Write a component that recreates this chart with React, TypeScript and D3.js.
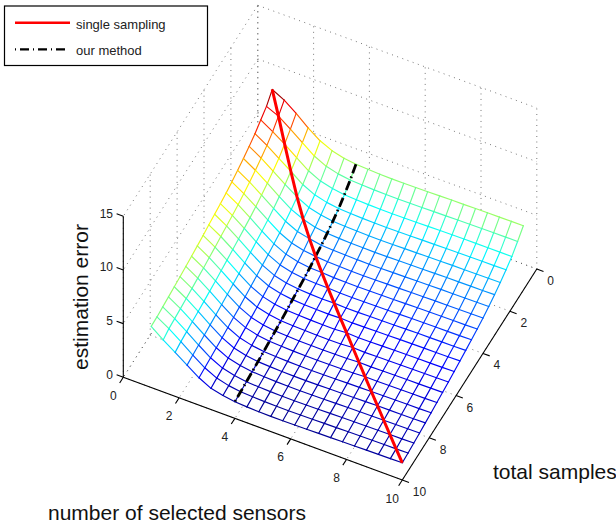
import React from "react";
import { scaleLinear, line, range, extent, interpolateRgb } from "d3";

const sensorTicks = [0, 2, 4, 6, 8, 10];
const sampleTicks = [0, 2, 4, 6, 8, 10];
const errorTicks = [0, 5, 10, 15];

// grid of the surface: 22 nodes from 1 to 10 along both axes
const nodeCount = 22;
const ourMethodColumn = 7;

// estimation error, one row per total samples node, one value per sensors node
const errorRows = [
  [10.08, 9.5, 8.67, 7.74, 6.94, 6.43, 6.13, 5.98, 5.92, 5.88, 5.85, 5.85, 5.87, 5.89, 5.91, 5.93, 5.94, 5.96, 5.97, 5.98, 5.99, 6.0],
  [9.35, 8.85, 8.05, 7.2, 6.36, 5.81, 5.52, 5.36, 5.3, 5.26, 5.24, 5.23, 5.24, 5.26, 5.28, 5.3, 5.32, 5.34, 5.35, 5.36, 5.37, 5.37],
  [8.93, 8.25, 7.5, 6.65, 5.83, 5.28, 4.99, 4.83, 4.77, 4.73, 4.71, 4.7, 4.71, 4.73, 4.75, 4.77, 4.79, 4.8, 4.81, 4.81, 4.81, 4.81],
  [8.49, 7.81, 7.01, 6.22, 5.39, 4.84, 4.55, 4.39, 4.33, 4.29, 4.27, 4.26, 4.27, 4.29, 4.31, 4.33, 4.35, 4.37, 4.38, 4.39, 4.4, 4.42],
  [8.15, 7.47, 6.67, 5.83, 5.08, 4.5, 4.21, 4.05, 3.99, 3.95, 3.93, 3.92, 3.93, 3.95, 3.97, 3.99, 4.01, 4.03, 4.04, 4.05, 4.06, 4.08],
  [7.86, 7.18, 6.38, 5.54, 4.76, 4.25, 3.92, 3.76, 3.7, 3.66, 3.64, 3.63, 3.64, 3.66, 3.68, 3.7, 3.72, 3.74, 3.75, 3.76, 3.77, 3.79],
  [7.6, 6.92, 6.12, 5.28, 4.5, 3.95, 3.7, 3.5, 3.44, 3.4, 3.38, 3.37, 3.38, 3.4, 3.42, 3.44, 3.46, 3.48, 3.49, 3.5, 3.51, 3.53],
  [7.37, 6.69, 5.89, 5.05, 4.27, 3.72, 3.43, 3.3, 3.21, 3.17, 3.15, 3.14, 3.15, 3.17, 3.19, 3.21, 3.23, 3.25, 3.26, 3.27, 3.28, 3.3],
  [7.18, 6.5, 5.7, 4.86, 4.08, 3.53, 3.24, 3.08, 3.05, 2.98, 2.96, 2.95, 2.96, 2.98, 3.0, 3.02, 3.04, 3.06, 3.07, 3.08, 3.09, 3.11],
  [7.02, 6.34, 5.54, 4.7, 3.92, 3.37, 3.08, 2.92, 2.86, 2.85, 2.8, 2.79, 2.8, 2.82, 2.84, 2.86, 2.88, 2.9, 2.91, 2.92, 2.93, 2.95],
  [6.88, 6.2, 5.4, 4.56, 3.78, 3.23, 2.94, 2.78, 2.72, 2.68, 2.7, 2.65, 2.66, 2.68, 2.7, 2.72, 2.74, 2.76, 2.77, 2.78, 2.79, 2.81],
  [6.74, 6.06, 5.26, 4.42, 3.64, 3.09, 2.8, 2.64, 2.58, 2.54, 2.52, 2.56, 2.52, 2.54, 2.56, 2.58, 2.6, 2.62, 2.63, 2.64, 2.65, 2.67],
  [6.59, 5.91, 5.11, 4.27, 3.49, 2.94, 2.65, 2.49, 2.43, 2.39, 2.37, 2.36, 2.45, 2.39, 2.41, 2.43, 2.45, 2.47, 2.48, 2.49, 2.5, 2.52],
  [6.46, 5.78, 4.98, 4.14, 3.36, 2.81, 2.52, 2.36, 2.3, 2.26, 2.24, 2.23, 2.24, 2.32, 2.28, 2.3, 2.32, 2.34, 2.35, 2.36, 2.37, 2.39],
  [6.34, 5.66, 4.86, 4.02, 3.24, 2.69, 2.4, 2.24, 2.18, 2.14, 2.12, 2.11, 2.12, 2.14, 2.2, 2.18, 2.2, 2.22, 2.23, 2.24, 2.25, 2.27],
  [6.23, 5.55, 4.75, 3.91, 3.13, 2.58, 2.29, 2.13, 2.07, 2.03, 2.01, 2.0, 2.01, 2.03, 2.05, 2.1, 2.09, 2.11, 2.12, 2.13, 2.14, 2.16],
  [6.12, 5.44, 4.64, 3.8, 3.02, 2.47, 2.18, 2.02, 1.96, 1.92, 1.9, 1.89, 1.9, 1.92, 1.94, 1.96, 1.98, 2.0, 2.01, 2.02, 2.03, 2.05],
  [6.02, 5.34, 4.54, 3.7, 2.92, 2.37, 2.08, 1.92, 1.86, 1.82, 1.8, 1.79, 1.8, 1.82, 1.84, 1.86, 1.88, 1.9, 1.91, 1.92, 1.93, 1.95],
  [5.92, 5.24, 4.44, 3.6, 2.82, 2.27, 1.98, 1.82, 1.76, 1.72, 1.7, 1.69, 1.7, 1.72, 1.74, 1.76, 1.78, 1.8, 1.81, 1.82, 1.83, 1.85],
  [5.83, 5.15, 4.35, 3.51, 2.73, 2.18, 1.89, 1.73, 1.67, 1.63, 1.61, 1.6, 1.61, 1.63, 1.65, 1.67, 1.69, 1.71, 1.72, 1.73, 1.74, 1.76],
  [5.74, 5.06, 4.26, 3.42, 2.64, 2.09, 1.8, 1.64, 1.58, 1.54, 1.52, 1.51, 1.52, 1.54, 1.56, 1.58, 1.6, 1.62, 1.63, 1.64, 1.65, 1.67],
  [5.7, 4.85, 4.1, 3.32, 2.55, 1.98, 1.72, 1.55, 1.48, 1.44, 1.42, 1.42, 1.43, 1.45, 1.47, 1.49, 1.51, 1.53, 1.55, 1.57, 1.58, 1.6],
];

const jetStops = ["#000090", "#0000ff", "#00ffff", "#ffff00", "#ff0000", "#800000"];
const jetDomain = [0, 0.125, 0.375, 0.625, 0.875, 1];

const labelFont = "'Liberation Sans', Arial, sans-serif";

const ox = 123.3;
const oy = 377.3;

// oblique projection of the box, one scale per axis and screen direction
const sensorX = scaleLinear().domain([0, 10]).range([0, 279]);
const sensorY = scaleLinear().domain([0, 10]).range([0, 102.7]);
const sampleX = scaleLinear().domain([10, 0]).range([0, 134.5]);
const sampleY = scaleLinear().domain([10, 0]).range([0, -211]);
const errorY = scaleLinear().domain([0, 15]).range([0, -161]);

const px = (s: number, t: number) => ox + sensorX(s) + sampleX(t);
const py = (s: number, t: number, z: number) => oy + sensorY(s) + sampleY(t) + errorY(z);

const nodeValue = scaleLinear().domain([0, nodeCount - 1]).range([1, 10]);
const nodes = range(nodeCount);

export default function App() {
  const [zMin, zMax] = extent(errorRows.flat()) as [number, number];
  const unit = scaleLinear().domain([zMin, zMax]).range([0, 1]);
  const jet = scaleLinear<string>().domain(jetDomain).range(jetStops).interpolate(interpolateRgb).clamp(true);
  const colorOf = (z: number) => jet(unit(z));

  const at = (i: number, j: number) => ({
    x: px(nodeValue(i), nodeValue(j)),
    y: py(nodeValue(i), nodeValue(j), errorRows[j][i]),
    z: errorRows[j][i],
  });

  const path = line<{ x: number; y: number }>().x((d) => d.x).y((d) => d.y);

  // floor and wall grid of the box
  const gridLines: [number, number, number, number, number, number][] = [];
  sensorTicks.forEach((s) => {
    gridLines.push([s, 0, 0, s, 10, 0]);
    gridLines.push([s, 0, 0, s, 0, 15]);
  });
  sampleTicks.forEach((t) => {
    gridLines.push([0, t, 0, 10, t, 0]);
    gridLines.push([0, t, 0, 0, t, 15]);
  });
  errorTicks.forEach((z) => {
    gridLines.push([0, 0, z, 10, 0, z]);
    gridLines.push([0, 0, z, 0, 10, z]);
  });

  const faces = nodes.slice(0, -1).flatMap((j) =>
    nodes.slice(0, -1).map((i) => [at(i, j), at(i + 1, j), at(i + 1, j + 1), at(i, j + 1)])
  );
  const segments = nodes.flatMap((j) =>
    nodes.slice(0, -1).flatMap((i) => [
      [at(i, j), at(i + 1, j)],
      [at(j, i), at(j, i + 1)],
    ])
  );

  const redPoints = nodes.map((i) => at(i, i));
  const blackPoints = nodes.map((j) => at(ourMethodColumn, j));

  return (
    <svg width={616} height={527} style={{ position: "absolute", left: 0, top: 0, overflow: "hidden" }} fontFamily={labelFont}>
      <rect width={616} height={527} fill="#fff" />

      <g stroke="#555" strokeWidth={0.8} strokeDasharray="1 4.5" fill="none">
        {gridLines.map((g, k) => (
          <line key={k} x1={px(g[0], g[1])} y1={py(g[0], g[1], g[2])} x2={px(g[3], g[4])} y2={py(g[3], g[4], g[5])} />
        ))}
      </g>

      {/* axes */}
      <g stroke="#000" strokeWidth={1.1} fill="none">
        <line x1={px(0, 10)} y1={py(0, 10, 0)} x2={px(10, 10)} y2={py(10, 10, 0)} />
        <line x1={px(10, 10)} y1={py(10, 10, 0)} x2={px(10, 0)} y2={py(10, 0, 0)} />
        <line x1={px(0, 10)} y1={py(0, 10, 0)} x2={px(0, 10)} y2={py(0, 10, 15)} />
        {sensorTicks.map((s) => (
          <line key={`sx${s}`} x1={px(s, 10)} y1={py(s, 10, 0)} x2={px(s, 10.27)} y2={py(s, 10.27, 0)} />
        ))}
        {sampleTicks.map((t) => (
          <line key={`tx${t}`} x1={px(10, t)} y1={py(10, t, 0)} x2={px(10.24, t)} y2={py(10.24, t, 0)} />
        ))}
        {errorTicks.map((z) => (
          <line key={`zx${z}`} x1={px(0, 10)} y1={py(0, 10, z)} x2={px(-0.24, 10)} y2={py(-0.24, 10, z)} />
        ))}
      </g>

      {/* white faces hide the grid behind the surface */}
      <g fill="#fff" stroke="none">
        {faces.map((f, k) => (
          <path key={k} d={path(f) + "Z"} />
        ))}
      </g>
      <g fill="none" strokeWidth={1.15} strokeLinecap="round">
        {segments.map((seg, k) => (
          <path key={k} d={path(seg) || ""} stroke={colorOf((seg[0].z + seg[1].z) / 2)} />
        ))}
      </g>

      <path d={path(blackPoints) || ""} fill="none" stroke="#000" strokeWidth={2.8} strokeDasharray="9.5 3.5 1.5 3.5" />
      <path d={path(redPoints) || ""} fill="none" stroke="#f00" strokeWidth={3} />

      {/* tick labels */}
      <g fontSize={12} fill="#222">
        {errorTicks.map((z) => (
          <text key={z} x={113} y={py(0, 10, z) + 1.5} textAnchor="end">{z}</text>
        ))}
        {sensorTicks.map((s) => (
          <text key={s} x={px(s, 10) - 10} y={py(s, 10, 0) + 22.5} textAnchor="middle">{s}</text>
        ))}
        {sampleTicks.map((t) => (
          <text key={t} x={px(10, t) + 10.5} y={py(10, t, 0) + 16} textAnchor="start">{t}</text>
        ))}
      </g>

      <text x={0} y={0} fontSize={21} fill="#111" textAnchor="middle" transform="translate(88,297) rotate(-90)">estimation error</text>
      <text x={48} y={520} fontSize={21} fill="#111">number of selected sensors</text>
      <text x={493} y={479} fontSize={21} fill="#111">total samples</text>

      {/* legend */}
      <rect x={4.5} y={6} width={203} height={59.5} fill="#fff" stroke="#000" strokeWidth={1.2} />
      <line x1={15} y1={22.7} x2={70} y2={22.7} stroke="#f00" strokeWidth={2.5} />
      <line x1={15} y1={49.4} x2={69} y2={49.4} stroke="#000" strokeWidth={2.2} strokeDasharray="1 4 9 4" />
      <text x={76} y={28.5} fontSize={13} fill="#222">single sampling</text>
      <text x={76} y={54.5} fontSize={13} fill="#222">our method</text>
    </svg>
  );
}
